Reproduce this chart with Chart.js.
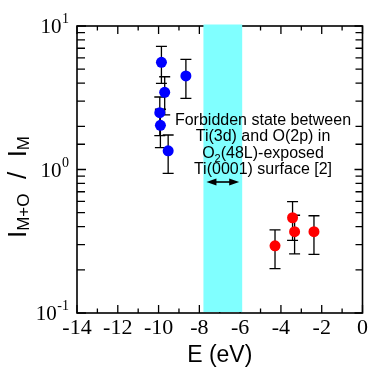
<!DOCTYPE html>
<html><head><meta charset="utf-8">
<script src="https://cdn.jsdelivr.net/npm/chart.js@4.4.1/dist/chart.umd.min.js"></script>
</head><body style="margin:0">
<canvas id="c" width="370" height="369"></canvas>
<script>
// ---- data ----
const blueE  = [-9.86, -9.70, -9.94, -9.91, -9.53, -8.66];
const blueR  = [5.58, 3.45, 2.49, 2.03, 1.35, 4.49];
const blueHi = [7.2, 4.43, 3.2, 2.63, 1.74, 5.86];
const blueLo = [3.98, 2.4, 1.72, 1.42, 0.94, 3.13];

const redE  = [-4.29, -3.43, -3.33, -2.38];
const redR  = [0.294, 0.461, 0.369, 0.369];
const redHi = [0.379, 0.597, 0.48, 0.476];
const redLo = [0.204, 0.321, 0.258, 0.256];

const xRange = [-14, 0];
const xStep = 2;
const yRange = [0.1, 10];
const yDecades = [0.1, 1, 10];
const yExponents = ['-1', '0', '1'];
const bandRange = [-7.8, -5.9];
const noteLines = ['Forbidden state between', 'Ti(3d) and O(2p) in', 'O|2|(48L)-exposed', 'Ti(0001) surface [2]'];

Chart.defaults.font.family = 'Liberation Serif';

function pts(E, R){ return E.map((e,i)=>({x:e, y:R[i]})); }

const deco = {
  id: 'deco',
  beforeDatasetsDraw(chart){
    const {ctx, scales:{x, y}} = chart;
    ctx.save();
    ctx.strokeStyle = '#000'; ctx.lineWidth = 1.3;
    const bars = (E, hi, lo) => E.forEach((e,i)=>{
      const px = x.getPixelForValue(e), pt = y.getPixelForValue(hi[i]), pb = y.getPixelForValue(lo[i]);
      ctx.beginPath();
      ctx.moveTo(px, pt); ctx.lineTo(px, pb);
      ctx.moveTo(px-5.5, pt); ctx.lineTo(px+5.5, pt);
      ctx.moveTo(px-5.5, pb); ctx.lineTo(px+5.5, pb);
      ctx.stroke();
    });
    bars(blueE, blueHi, blueLo);
    bars(redE, redHi, redLo);
    ctx.restore();
  },
  afterDraw(chart){
    const {ctx, chartArea:a, scales:{x, y}} = chart;
    ctx.save();
    // frame
    ctx.strokeStyle = '#000'; ctx.lineWidth = 1.6;
    ctx.strokeRect(a.left, a.top, a.right-a.left, a.bottom-a.top);
    // x ticks (inward, top and bottom)
    ctx.lineWidth = 1.3;
    ctx.beginPath();
    for (let v = xRange[0]; v <= xRange[1]; v += 1) {
      const px = x.getPixelForValue(v);
      const len = (v % xStep === 0) ? 8 : 4.5;
      ctx.moveTo(px, a.bottom); ctx.lineTo(px, a.bottom - len);
      ctx.moveTo(px, a.top); ctx.lineTo(px, a.top + len);
    }
    // y ticks (log, inward, left and right)
    y.ticks.forEach(t => {
      const v = t.value;
      if (v < yRange[0] - 1e-9 || v > yRange[1] + 1e-9) return;
      const py = y.getPixelForValue(v);
      const major = yDecades.some(d => Math.abs(d - v) < 1e-9);
      ctx.moveTo(a.left, py); ctx.lineTo(a.left + (major ? 9 : 8), py);
      ctx.moveTo(a.right, py); ctx.lineTo(a.right - (major ? 8 : 7), py);
    });
    ctx.stroke();

    // cyan band
    const bx0 = x.getPixelForValue(bandRange[0]), bx1 = x.getPixelForValue(bandRange[1]);
    ctx.fillStyle = '#80ffff';
    ctx.fillRect(bx0, a.top - 1.5, bx1 - bx0, a.bottom - a.top + 0.5);

    // double arrow
    const ay = 182;
    ctx.strokeStyle = '#000'; ctx.fillStyle = '#000'; ctx.lineWidth = 1.6;
    ctx.beginPath(); ctx.moveTo(bx0 + 6, ay); ctx.lineTo(bx1 - 6, ay); ctx.stroke();
    ctx.beginPath(); ctx.moveTo(bx0 + 3, ay); ctx.lineTo(bx0 + 13, ay - 3.5); ctx.lineTo(bx0 + 13, ay + 3.5); ctx.closePath(); ctx.fill();
    ctx.beginPath(); ctx.moveTo(bx1 - 3, ay); ctx.lineTo(bx1 - 13, ay - 3.5); ctx.lineTo(bx1 - 13, ay + 3.5); ctx.closePath(); ctx.fill();

    // annotation text
    ctx.fillStyle = '#000';
    ctx.textBaseline = 'alphabetic'; ctx.textAlign = 'left';
    const cx = 263, lh = 16.4, base0 = 125;
    noteLines.forEach((line, i) => {
      const parts = line.split('|');
      const bl = base0 + i * lh;
      const fonts = parts.map((p, j) => (j % 2 === 1) ? '11px Liberation Sans' : '16px Liberation Sans');
      let w = 0;
      parts.forEach((p, j) => { ctx.font = fonts[j]; w += ctx.measureText(p).width; });
      let xx = cx - w / 2;
      parts.forEach((p, j) => {
        ctx.font = fonts[j];
        ctx.fillText(p, xx, bl + ((j % 2 === 1) ? 4 : 0));
        xx += ctx.measureText(p).width;
      });
    });

    // y tick labels 10^n
    yDecades.forEach((d, i) => {
      const py = y.getPixelForValue(d);
      ctx.textAlign = 'right';
      ctx.font = '14px Liberation Serif';
      const ex = yExponents[i];
      const ew = ctx.measureText(ex).width;
      ctx.fillText(ex, 69, py - 3);
      ctx.font = '21px Liberation Serif';
      ctx.fillText('10', 69 - ew - 0.5, py + 7);
    });

    // y axis title I_{M+O} / I_M
    ctx.save();
    ctx.translate(26, 187);
    ctx.rotate(-Math.PI / 2);
    const seg = [['I', 0], ['M+O', 1], ['  /  ', 0], ['I', 0], ['M', 1]];
    const fnt = s => s ? '17px Liberation Sans' : '26px Liberation Sans';
    let tw = 0;
    seg.forEach(([t, s]) => { ctx.font = fnt(s); tw += ctx.measureText(t).width; });
    let sx = -tw / 2;
    ctx.textAlign = 'left';
    seg.forEach(([t, s]) => {
      ctx.font = fnt(s);
      ctx.fillText(t, sx, s ? 3 : 0);
      sx += ctx.measureText(t).width;
    });
    ctx.restore();

    ctx.restore();
  }
};

new Chart(document.getElementById('c'), {
  type: 'scatter',
  data: {
    datasets: [
      { data: pts(blueE, blueR), backgroundColor: '#0000ff', borderWidth: 0, pointRadius: 5.5, pointHoverRadius: 5.5 },
      { data: pts(redE, redR), backgroundColor: '#ff0000', borderWidth: 0, pointRadius: 5.5, pointHoverRadius: 5.5 }
    ]
  },
  options: {
    responsive: false,
    animation: false,
    events: [],
    layout: { padding: { top: 26, right: 7, left: 0, bottom: 0 } },
    plugins: { legend: { display: false }, tooltip: { enabled: false } },
    scales: {
      x: {
        type: 'linear', min: xRange[0], max: xRange[1],
        afterFit(s){ s.height = 56; },
        grid: { display: false, drawTicks: false },
        border: { display: false },
        ticks: { stepSize: xStep, color: '#000', padding: 2, font: { family: 'Liberation Serif', size: 22 }, maxRotation: 0 },
        title: { display: true, text: 'E (eV)', color: '#000', font: { family: 'Liberation Sans', size: 23 }, padding: { top: 0, bottom: 0 } }
      },
      y: {
        type: 'logarithmic', min: yRange[0], max: yRange[1],
        afterFit(s){ s.width = 77; },
        grid: { display: false, drawTicks: false },
        border: { display: false },
        ticks: { display: false }
      }
    }
  },
  plugins: [deco]
});
</script>
</body></html>
